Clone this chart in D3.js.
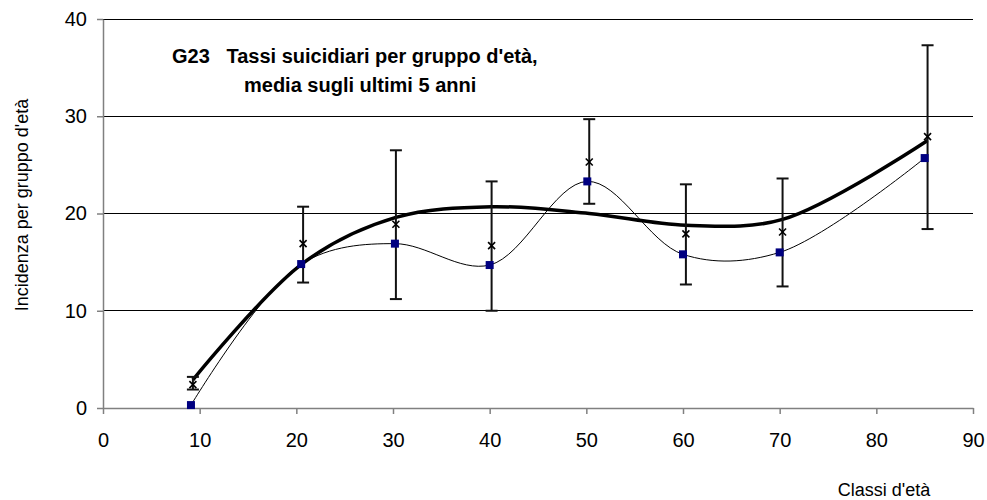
<!DOCTYPE html>
<html>
<head>
<meta charset="utf-8">
<script src="https://cdn.jsdelivr.net/npm/d3@7"></script>
<style>
  html, body { margin: 0; padding: 0; background: #fff; }
  svg { display: block; font-family: "Liberation Sans", Arial, sans-serif; }
</style>
</head>
<body>
<svg id="chart" width="987" height="500"></svg>
<script>
// ---- data ----
const ageX      = [9.1, 20.5, 30.2, 40.0, 50.1, 60.0, 70.0, 85.0];   // squares x
const rateNow   = [0.3, 14.8, 16.9, 14.7, 23.3, 15.8, 16.0, 25.7];   // squares (blue)
const meanX     = [9.3, 20.7, 30.3, 40.2, 50.3, 60.3, 70.3, 85.3];   // crosses / error bars x
const meanRate  = [2.4, 16.9, 18.9, 16.7, 25.3, 17.9, 18.1, 27.9];   // crosses
const errLow    = [1.9, 12.9, 11.2, 10.0, 21.0, 12.7, 12.5, 18.4];
const errHigh   = [3.2, 20.7, 26.5, 23.3, 29.7, 23.0, 23.6, 37.3];
const trendRate = [2.9, 14.9, 19.6, 20.7, 20.0, 18.8, 19.4, 27.5];   // thick trend line
const xTicks = [0, 10, 20, 30, 40, 50, 60, 70, 80, 90];
const yTicks = [0, 10, 20, 30, 40];

const svg = d3.select("#chart");
const x = d3.scaleLinear().domain([0, 90]).range([103, 973]);
const y = d3.scaleLinear().domain([0, 40]).range([408, 19]);

// gridlines
svg.append("g").selectAll("line").data(yTicks.filter(d => d > 0)).join("line")
  .attr("x1", x(0)).attr("x2", x(90))
  .attr("y1", d => y(d)).attr("y2", d => y(d))
  .attr("stroke", "#000").attr("stroke-width", 1).attr("shape-rendering", "crispEdges");

// axes
const xAxis = svg.append("g").attr("transform", `translate(0,${y(0)})`)
  .call(d3.axisBottom(x).tickValues(xTicks).tickSize(6).tickSizeOuter(0).tickPadding(19));
const yAxis = svg.append("g").attr("transform", `translate(${x(0)},0)`)
  .call(d3.axisLeft(y).tickValues(yTicks).tickSize(6).tickSizeOuter(0).tickPadding(10));
[xAxis, yAxis].forEach(a => {
  a.select(".domain").attr("stroke", "#808080").attr("stroke-width", 1.5);
  a.selectAll(".tick line").attr("stroke", "#808080").attr("stroke-width", 1.5);
  a.selectAll(".tick text").attr("fill", "#000").attr("font-size", 20)
    .attr("font-family", "Liberation Sans, Arial, sans-serif");
});

// smoothed lines
const lineThin = d3.line().x((d, i) => x(ageX[i])).y(d => y(d)).curve(d3.curveCatmullRom.alpha(0.5));
const lineThick = d3.line().x((d, i) => x(meanX[i])).y(d => y(d)).curve(d3.curveCatmullRom.alpha(0.5));

svg.append("path").datum(rateNow).attr("d", lineThin)
  .attr("fill", "none").attr("stroke", "#000").attr("stroke-width", 1);
svg.append("path").datum(trendRate).attr("d", lineThick)
  .attr("fill", "none").attr("stroke", "#000").attr("stroke-width", 3.5);

// error bars
const eb = svg.append("g").attr("stroke", "#111").attr("stroke-width", 2);
meanX.forEach((mx, i) => {
  eb.append("line").attr("x1", x(mx)).attr("x2", x(mx)).attr("y1", y(errLow[i])).attr("y2", y(errHigh[i]));
  eb.append("line").attr("x1", x(mx) - 6).attr("x2", x(mx) + 6).attr("y1", y(errLow[i])).attr("y2", y(errLow[i]));
  eb.append("line").attr("x1", x(mx) - 6).attr("x2", x(mx) + 6).attr("y1", y(errHigh[i])).attr("y2", y(errHigh[i]));
});

// crosses
const cr = svg.append("g").attr("stroke", "#000").attr("stroke-width", 1.6);
meanRate.forEach((v, i) => {
  const cx = x(meanX[i]), cy = y(v), s = 3.5;
  cr.append("line").attr("x1", cx - s).attr("x2", cx + s).attr("y1", cy - s).attr("y2", cy + s);
  cr.append("line").attr("x1", cx - s).attr("x2", cx + s).attr("y1", cy + s).attr("y2", cy - s);
});

// squares
svg.append("g").selectAll("rect").data(rateNow).join("rect")
  .attr("x", (d, i) => x(ageX[i]) - 4).attr("y", d => y(d) - 4)
  .attr("width", 8).attr("height", 8).attr("fill", "#000080");

// title
const t = svg.append("text").attr("font-weight", "bold").attr("font-size", 20).attr("fill", "#000");
t.append("tspan").attr("x", 172).attr("y", 63).attr("xml:space", "preserve").text("G23   Tassi suicidiari per gruppo d'età,");
t.append("tspan").attr("x", 244).attr("y", 92).text("media sugli ultimi 5 anni");

// axis titles
svg.append("text").attr("transform", "translate(28,205) rotate(-90)")
  .attr("text-anchor", "middle").attr("font-size", 18).text("Incidenza per gruppo d'età");
svg.append("text").attr("x", 884).attr("y", 496)
  .attr("text-anchor", "middle").attr("font-size", 18).text("Classi d'età");
</script>
</body>
</html>
